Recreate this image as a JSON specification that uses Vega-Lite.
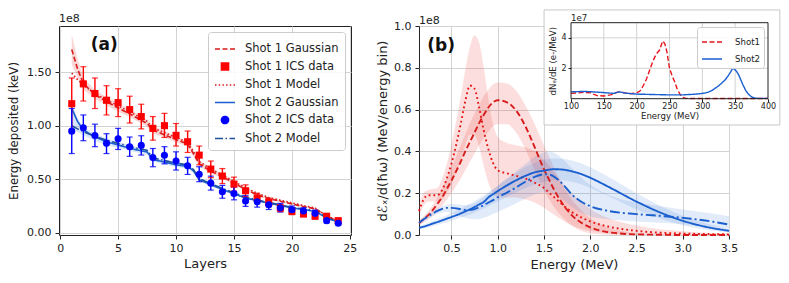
{
 "$schema": "https://vega.github.io/schema/vega-lite/v6.json",
 "padding": {"left": 8, "top": 8, "right": 2, "bottom": 2},
 "background": "white",
 "config": {
  "font": "DejaVu Sans",
  "view": {"stroke": "#222", "strokeWidth": 1},
  "axis": {"grid": true, "gridColor": "#d3d3d3", "gridWidth": 1, "domain": false, "tickColor": "#222", "tickSize": 4, "labelColor": "#222", "labelFontSize": 11, "labelPadding": 3, "labelFlush": false, "labelOverlap": false, "titleFontSize": 12.5, "titleFontWeight": "normal", "titleColor": "#222", "titlePadding": 3, "labelFont": "DejaVu Sans", "titleFont": "DejaVu Sans"},
  "title": {"fontWeight": "normal", "fontSize": 11, "anchor": "start", "frame": "group", "offset": 2, "color": "#222", "font": "DejaVu Sans"},
  "legend": {"labelFont": "DejaVu Sans", "labelColor": "#222"}
 },
 "datasets": {
  "one": [{}],
  "a": [
   {"x": 1, "Shot 1 Gaussian": 1.71, "Shot 1 Model": 1.49, "Shot 2 Gaussian": 1.16, "Shot 2 Model": 1.0, "rlo": 1.57, "rhi": 1.85, "blo": 0.99, "bhi": 1.21},
   {"x": 1.5, "Shot 1 Gaussian": 1.53, "Shot 1 Model": 1.43, "Shot 2 Gaussian": 1.04, "Shot 2 Model": 0.97, "rlo": 1.45, "rhi": 1.62, "blo": 0.94, "bhi": 1.07},
   {"x": 2, "Shot 1 Gaussian": 1.395, "Shot 1 Model": 1.38, "Shot 2 Gaussian": 0.96, "Shot 2 Model": 0.945, "rlo": 1.34, "rhi": 1.45, "blo": 0.91, "bhi": 0.99},
   {"x": 3, "Shot 1 Gaussian": 1.29, "Shot 1 Model": 1.3, "Shot 2 Gaussian": 0.895, "Shot 2 Model": 0.9, "rlo": 1.25, "rhi": 1.33, "blo": 0.86, "bhi": 0.925},
   {"x": 4, "Shot 1 Gaussian": 1.225, "Shot 1 Model": 1.24, "Shot 2 Gaussian": 0.85, "Shot 2 Model": 0.865, "rlo": 1.19, "rhi": 1.27, "blo": 0.82, "bhi": 0.88},
   {"x": 5, "Shot 1 Gaussian": 1.165, "Shot 1 Model": 1.185, "Shot 2 Gaussian": 0.82, "Shot 2 Model": 0.835, "rlo": 1.13, "rhi": 1.21, "blo": 0.795, "bhi": 0.85},
   {"x": 6, "Shot 1 Gaussian": 1.11, "Shot 1 Model": 1.13, "Shot 2 Gaussian": 0.79, "Shot 2 Model": 0.805, "rlo": 1.08, "rhi": 1.15, "blo": 0.765, "bhi": 0.82},
   {"x": 7, "Shot 1 Gaussian": 1.05, "Shot 1 Model": 1.07, "Shot 2 Gaussian": 0.765, "Shot 2 Model": 0.78, "rlo": 1.02, "rhi": 1.09, "blo": 0.74, "bhi": 0.79},
   {"x": 7.5, "Shot 1 Gaussian": 1.02, "Shot 1 Model": 1.04, "Shot 2 Gaussian": 0.755, "Shot 2 Model": 0.77, "rlo": 0.99, "rhi": 1.055, "blo": 0.73, "bhi": 0.78},
   {"x": 8, "Shot 1 Gaussian": 0.96, "Shot 1 Model": 0.98, "Shot 2 Gaussian": 0.685, "Shot 2 Model": 0.7, "rlo": 0.93, "rhi": 1.0, "blo": 0.665, "bhi": 0.71},
   {"x": 9, "Shot 1 Gaussian": 0.915, "Shot 1 Model": 0.935, "Shot 2 Gaussian": 0.66, "Shot 2 Model": 0.675, "rlo": 0.89, "rhi": 0.95, "blo": 0.64, "bhi": 0.685},
   {"x": 10, "Shot 1 Gaussian": 0.87, "Shot 1 Model": 0.89, "Shot 2 Gaussian": 0.635, "Shot 2 Model": 0.65, "rlo": 0.845, "rhi": 0.9, "blo": 0.615, "bhi": 0.66},
   {"x": 11, "Shot 1 Gaussian": 0.83, "Shot 1 Model": 0.845, "Shot 2 Gaussian": 0.62, "Shot 2 Model": 0.635, "rlo": 0.805, "rhi": 0.86, "blo": 0.6, "bhi": 0.645},
   {"x": 11.5, "Shot 1 Gaussian": 0.74, "Shot 1 Model": 0.76, "Shot 2 Gaussian": 0.58, "Shot 2 Model": 0.59, "rlo": 0.71, "rhi": 0.77, "blo": 0.56, "bhi": 0.6},
   {"x": 12, "Shot 1 Gaussian": 0.645, "Shot 1 Model": 0.665, "Shot 2 Gaussian": 0.495, "Shot 2 Model": 0.505, "rlo": 0.62, "rhi": 0.68, "blo": 0.48, "bhi": 0.515},
   {"x": 13, "Shot 1 Gaussian": 0.575, "Shot 1 Model": 0.595, "Shot 2 Gaussian": 0.45, "Shot 2 Model": 0.46, "rlo": 0.555, "rhi": 0.605, "blo": 0.437, "bhi": 0.467},
   {"x": 14, "Shot 1 Gaussian": 0.525, "Shot 1 Model": 0.54, "Shot 2 Gaussian": 0.405, "Shot 2 Model": 0.415, "rlo": 0.505, "rhi": 0.55, "blo": 0.393, "bhi": 0.42},
   {"x": 15, "Shot 1 Gaussian": 0.465, "Shot 1 Model": 0.48, "Shot 2 Gaussian": 0.365, "Shot 2 Model": 0.373, "rlo": 0.45, "rhi": 0.49, "blo": 0.355, "bhi": 0.38},
   {"x": 16, "Shot 1 Gaussian": 0.405, "Shot 1 Model": 0.42, "Shot 2 Gaussian": 0.325, "Shot 2 Model": 0.333, "rlo": 0.39, "rhi": 0.425, "blo": 0.316, "bhi": 0.338},
   {"x": 17, "Shot 1 Gaussian": 0.355, "Shot 1 Model": 0.37, "Shot 2 Gaussian": 0.3, "Shot 2 Model": 0.307, "rlo": 0.343, "rhi": 0.37, "blo": 0.292, "bhi": 0.31},
   {"x": 18, "Shot 1 Gaussian": 0.32, "Shot 1 Model": 0.33, "Shot 2 Gaussian": 0.278, "Shot 2 Model": 0.284, "rlo": 0.31, "rhi": 0.335, "blo": 0.27, "bhi": 0.288},
   {"x": 19, "Shot 1 Gaussian": 0.295, "Shot 1 Model": 0.305, "Shot 2 Gaussian": 0.255, "Shot 2 Model": 0.26, "rlo": 0.285, "rhi": 0.305, "blo": 0.248, "bhi": 0.264},
   {"x": 20, "Shot 1 Gaussian": 0.27, "Shot 1 Model": 0.28, "Shot 2 Gaussian": 0.233, "Shot 2 Model": 0.238, "rlo": 0.26, "rhi": 0.28, "blo": 0.227, "bhi": 0.241},
   {"x": 21, "Shot 1 Gaussian": 0.245, "Shot 1 Model": 0.255, "Shot 2 Gaussian": 0.218, "Shot 2 Model": 0.222, "rlo": 0.237, "rhi": 0.255, "blo": 0.212, "bhi": 0.226},
   {"x": 22, "Shot 1 Gaussian": 0.225, "Shot 1 Model": 0.232, "Shot 2 Gaussian": 0.2, "Shot 2 Model": 0.204, "rlo": 0.217, "rhi": 0.235, "blo": 0.195, "bhi": 0.208},
   {"x": 23, "Shot 1 Gaussian": 0.155, "Shot 1 Model": 0.158, "Shot 2 Gaussian": 0.14, "Shot 2 Model": 0.142, "rlo": 0.148, "rhi": 0.162, "blo": 0.135, "bhi": 0.146},
   {"x": 24, "Shot 1 Gaussian": 0.11, "Shot 1 Model": 0.112, "Shot 2 Gaussian": 0.1, "Shot 2 Model": 0.101, "rlo": 0.105, "rhi": 0.115, "blo": 0.097, "bhi": 0.105}
  ],
  "ics": [
   {"series": "Shot 1 ICS data", "x": 1, "y": 1.205, "lo": 0.965, "hi": 1.445},
   {"series": "Shot 1 ICS data", "x": 2, "y": 1.39, "lo": 1.23, "hi": 1.55},
   {"series": "Shot 1 ICS data", "x": 3, "y": 1.3, "lo": 1.16, "hi": 1.445},
   {"series": "Shot 1 ICS data", "x": 4, "y": 1.237, "lo": 1.1, "hi": 1.373},
   {"series": "Shot 1 ICS data", "x": 5, "y": 1.215, "lo": 1.085, "hi": 1.345},
   {"series": "Shot 1 ICS data", "x": 6, "y": 1.15, "lo": 1.025, "hi": 1.275},
   {"series": "Shot 1 ICS data", "x": 7, "y": 1.085, "lo": 0.97, "hi": 1.2},
   {"series": "Shot 1 ICS data", "x": 8, "y": 0.975, "lo": 0.865, "hi": 1.085},
   {"series": "Shot 1 ICS data", "x": 9, "y": 1.0, "lo": 0.89, "hi": 1.115},
   {"series": "Shot 1 ICS data", "x": 10, "y": 0.91, "lo": 0.81, "hi": 1.02},
   {"series": "Shot 1 ICS data", "x": 11, "y": 0.85, "lo": 0.75, "hi": 0.95},
   {"series": "Shot 1 ICS data", "x": 12, "y": 0.725, "lo": 0.635, "hi": 0.81},
   {"series": "Shot 1 ICS data", "x": 13, "y": 0.595, "lo": 0.515, "hi": 0.67},
   {"series": "Shot 1 ICS data", "x": 14, "y": 0.53, "lo": 0.46, "hi": 0.6},
   {"series": "Shot 1 ICS data", "x": 15, "y": 0.455, "lo": 0.39, "hi": 0.52},
   {"series": "Shot 1 ICS data", "x": 16, "y": 0.393, "lo": 0.338, "hi": 0.448},
   {"series": "Shot 1 ICS data", "x": 17, "y": 0.325, "lo": 0.28, "hi": 0.37},
   {"series": "Shot 1 ICS data", "x": 18, "y": 0.284, "lo": 0.244, "hi": 0.324},
   {"series": "Shot 1 ICS data", "x": 19, "y": 0.232, "lo": 0.197, "hi": 0.267},
   {"series": "Shot 1 ICS data", "x": 20, "y": 0.2, "lo": 0.17, "hi": 0.23},
   {"series": "Shot 1 ICS data", "x": 21, "y": 0.176, "lo": 0.151, "hi": 0.201},
   {"series": "Shot 1 ICS data", "x": 22, "y": 0.155, "lo": 0.13, "hi": 0.18},
   {"series": "Shot 1 ICS data", "x": 23, "y": 0.155, "lo": 0.135, "hi": 0.175},
   {"series": "Shot 1 ICS data", "x": 24, "y": 0.114, "lo": 0.099, "hi": 0.129},
   {"series": "Shot 2 ICS data", "x": 1, "y": 0.949, "lo": 0.74, "hi": 1.16},
   {"series": "Shot 2 ICS data", "x": 2, "y": 0.98, "lo": 0.86, "hi": 1.1},
   {"series": "Shot 2 ICS data", "x": 3, "y": 0.909, "lo": 0.804, "hi": 1.014},
   {"series": "Shot 2 ICS data", "x": 4, "y": 0.835, "lo": 0.74, "hi": 0.925},
   {"series": "Shot 2 ICS data", "x": 5, "y": 0.878, "lo": 0.778, "hi": 0.975},
   {"series": "Shot 2 ICS data", "x": 6, "y": 0.804, "lo": 0.714, "hi": 0.894},
   {"series": "Shot 2 ICS data", "x": 7, "y": 0.816, "lo": 0.726, "hi": 0.906},
   {"series": "Shot 2 ICS data", "x": 8, "y": 0.702, "lo": 0.617, "hi": 0.787},
   {"series": "Shot 2 ICS data", "x": 9, "y": 0.724, "lo": 0.644, "hi": 0.804},
   {"series": "Shot 2 ICS data", "x": 10, "y": 0.671, "lo": 0.586, "hi": 0.756},
   {"series": "Shot 2 ICS data", "x": 11, "y": 0.625, "lo": 0.545, "hi": 0.705},
   {"series": "Shot 2 ICS data", "x": 12, "y": 0.547, "lo": 0.477, "hi": 0.617},
   {"series": "Shot 2 ICS data", "x": 13, "y": 0.464, "lo": 0.399, "hi": 0.529},
   {"series": "Shot 2 ICS data", "x": 14, "y": 0.383, "lo": 0.323, "hi": 0.443},
   {"series": "Shot 2 ICS data", "x": 15, "y": 0.368, "lo": 0.308, "hi": 0.428},
   {"series": "Shot 2 ICS data", "x": 16, "y": 0.297, "lo": 0.247, "hi": 0.347},
   {"series": "Shot 2 ICS data", "x": 17, "y": 0.29, "lo": 0.24, "hi": 0.34},
   {"series": "Shot 2 ICS data", "x": 18, "y": 0.263, "lo": 0.218, "hi": 0.308},
   {"series": "Shot 2 ICS data", "x": 19, "y": 0.235, "lo": 0.195, "hi": 0.275},
   {"series": "Shot 2 ICS data", "x": 20, "y": 0.216, "lo": 0.181, "hi": 0.251},
   {"series": "Shot 2 ICS data", "x": 21, "y": 0.204, "lo": 0.174, "hi": 0.234},
   {"series": "Shot 2 ICS data", "x": 22, "y": 0.182, "lo": 0.152, "hi": 0.212},
   {"series": "Shot 2 ICS data", "x": 23, "y": 0.114, "lo": 0.094, "hi": 0.134},
   {"series": "Shot 2 ICS data", "x": 24, "y": 0.09, "lo": 0.075, "hi": 0.105}
  ],
  "b": [
   {"x": 0.15, "Shot 1 Gaussian": 0.056, "Shot 1 Model": 0.115, "Shot 2 Gaussian": 0.035, "Shot 2 Model": 0.058, "r1lo": 0.045, "r1hi": 0.07, "r2lo": 0.09, "r2hi": 0.15, "b1lo": 0.028, "b1hi": 0.043, "b2lo": 0.05, "b2hi": 0.068},
   {"x": 0.2, "Shot 1 Gaussian": 0.075, "Shot 1 Model": 0.17, "Shot 2 Gaussian": 0.04, "Shot 2 Model": 0.075, "r1lo": 0.06, "r1hi": 0.09, "r2lo": 0.14, "r2hi": 0.2, "b1lo": 0.032, "b1hi": 0.05, "b2lo": 0.065, "b2hi": 0.085},
   {"x": 0.25, "Shot 1 Gaussian": 0.095, "Shot 1 Model": 0.19, "Shot 2 Gaussian": 0.047, "Shot 2 Model": 0.09, "r1lo": 0.075, "r1hi": 0.115, "r2lo": 0.16, "r2hi": 0.215, "b1lo": 0.037, "b1hi": 0.058, "b2lo": 0.078, "b2hi": 0.1},
   {"x": 0.3, "Shot 1 Gaussian": 0.12, "Shot 1 Model": 0.19, "Shot 2 Gaussian": 0.055, "Shot 2 Model": 0.103, "r1lo": 0.095, "r1hi": 0.145, "r2lo": 0.16, "r2hi": 0.22, "b1lo": 0.043, "b1hi": 0.067, "b2lo": 0.09, "b2hi": 0.115},
   {"x": 0.35, "Shot 1 Gaussian": 0.15, "Shot 1 Model": 0.19, "Shot 2 Gaussian": 0.062, "Shot 2 Model": 0.115, "r1lo": 0.12, "r1hi": 0.18, "r2lo": 0.16, "r2hi": 0.225, "b1lo": 0.049, "b1hi": 0.076, "b2lo": 0.1, "b2hi": 0.128},
   {"x": 0.4, "Shot 1 Gaussian": 0.18, "Shot 1 Model": 0.215, "Shot 2 Gaussian": 0.07, "Shot 2 Model": 0.125, "r1lo": 0.14, "r1hi": 0.22, "r2lo": 0.17, "r2hi": 0.27, "b1lo": 0.055, "b1hi": 0.085, "b2lo": 0.108, "b2hi": 0.138},
   {"x": 0.45, "Shot 1 Gaussian": 0.22, "Shot 1 Model": 0.27, "Shot 2 Gaussian": 0.078, "Shot 2 Model": 0.13, "r1lo": 0.17, "r1hi": 0.27, "r2lo": 0.2, "r2hi": 0.34, "b1lo": 0.061, "b1hi": 0.095, "b2lo": 0.11, "b2hi": 0.145},
   {"x": 0.5, "Shot 1 Gaussian": 0.26, "Shot 1 Model": 0.34, "Shot 2 Gaussian": 0.086, "Shot 2 Model": 0.13, "r1lo": 0.2, "r1hi": 0.32, "r2lo": 0.24, "r2hi": 0.43, "b1lo": 0.068, "b1hi": 0.105, "b2lo": 0.105, "b2hi": 0.148},
   {"x": 0.6, "Shot 1 Gaussian": 0.35, "Shot 1 Model": 0.53, "Shot 2 Gaussian": 0.103, "Shot 2 Model": 0.124, "r1lo": 0.27, "r1hi": 0.43, "r2lo": 0.36, "r2hi": 0.66, "b1lo": 0.082, "b1hi": 0.125, "b2lo": 0.09, "b2hi": 0.145},
   {"x": 0.65, "Shot 1 Gaussian": 0.4, "Shot 1 Model": 0.64, "Shot 2 Gaussian": 0.113, "Shot 2 Model": 0.12, "r1lo": 0.31, "r1hi": 0.48, "r2lo": 0.43, "r2hi": 0.79, "b1lo": 0.09, "b1hi": 0.137, "b2lo": 0.082, "b2hi": 0.143},
   {"x": 0.7, "Shot 1 Gaussian": 0.445, "Shot 1 Model": 0.715, "Shot 2 Gaussian": 0.123, "Shot 2 Model": 0.12, "r1lo": 0.35, "r1hi": 0.535, "r2lo": 0.48, "r2hi": 0.9, "b1lo": 0.098, "b1hi": 0.149, "b2lo": 0.077, "b2hi": 0.145},
   {"x": 0.75, "Shot 1 Gaussian": 0.49, "Shot 1 Model": 0.7, "Shot 2 Gaussian": 0.134, "Shot 2 Model": 0.124, "r1lo": 0.39, "r1hi": 0.58, "r2lo": 0.48, "r2hi": 0.955, "b1lo": 0.107, "b1hi": 0.162, "b2lo": 0.075, "b2hi": 0.152},
   {"x": 0.8, "Shot 1 Gaussian": 0.535, "Shot 1 Model": 0.61, "Shot 2 Gaussian": 0.146, "Shot 2 Model": 0.132, "r1lo": 0.43, "r1hi": 0.625, "r2lo": 0.42, "r2hi": 0.92, "b1lo": 0.117, "b1hi": 0.176, "b2lo": 0.077, "b2hi": 0.165},
   {"x": 0.85, "Shot 1 Gaussian": 0.575, "Shot 1 Model": 0.5, "Shot 2 Gaussian": 0.158, "Shot 2 Model": 0.143, "r1lo": 0.465, "r1hi": 0.665, "r2lo": 0.33, "r2hi": 0.8, "b1lo": 0.127, "b1hi": 0.19, "b2lo": 0.083, "b2hi": 0.18},
   {"x": 0.9, "Shot 1 Gaussian": 0.61, "Shot 1 Model": 0.41, "Shot 2 Gaussian": 0.18, "Shot 2 Model": 0.155, "r1lo": 0.495, "r1hi": 0.695, "r2lo": 0.25, "r2hi": 0.65, "b1lo": 0.138, "b1hi": 0.205, "b2lo": 0.09, "b2hi": 0.197},
   {"x": 0.95, "Shot 1 Gaussian": 0.635, "Shot 1 Model": 0.345, "Shot 2 Gaussian": 0.195, "Shot 2 Model": 0.167, "r1lo": 0.52, "r1hi": 0.72, "r2lo": 0.2, "r2hi": 0.53, "b1lo": 0.149, "b1hi": 0.22, "b2lo": 0.1, "b2hi": 0.215},
   {"x": 1.0, "Shot 1 Gaussian": 0.645, "Shot 1 Model": 0.31, "Shot 2 Gaussian": 0.21, "Shot 2 Model": 0.18, "r1lo": 0.53, "r1hi": 0.73, "r2lo": 0.18, "r2hi": 0.47, "b1lo": 0.16, "b1hi": 0.236, "b2lo": 0.11, "b2hi": 0.235},
   {"x": 1.1, "Shot 1 Gaussian": 0.635, "Shot 1 Model": 0.295, "Shot 2 Gaussian": 0.237, "Shot 2 Model": 0.203, "r1lo": 0.53, "r1hi": 0.725, "r2lo": 0.18, "r2hi": 0.44, "b1lo": 0.183, "b1hi": 0.268, "b2lo": 0.13, "b2hi": 0.27},
   {"x": 1.2, "Shot 1 Gaussian": 0.595, "Shot 1 Model": 0.283, "Shot 2 Gaussian": 0.262, "Shot 2 Model": 0.228, "r1lo": 0.49, "r1hi": 0.69, "r2lo": 0.18, "r2hi": 0.43, "b1lo": 0.205, "b1hi": 0.298, "b2lo": 0.152, "b2hi": 0.305},
   {"x": 1.3, "Shot 1 Gaussian": 0.52, "Shot 1 Model": 0.27, "Shot 2 Gaussian": 0.283, "Shot 2 Model": 0.255, "r1lo": 0.41, "r1hi": 0.62, "r2lo": 0.17, "r2hi": 0.42, "b1lo": 0.225, "b1hi": 0.325, "b2lo": 0.175, "b2hi": 0.34},
   {"x": 1.4, "Shot 1 Gaussian": 0.42, "Shot 1 Model": 0.25, "Shot 2 Gaussian": 0.3, "Shot 2 Model": 0.278, "r1lo": 0.31, "r1hi": 0.53, "r2lo": 0.155, "r2hi": 0.4, "b1lo": 0.242, "b1hi": 0.346, "b2lo": 0.195, "b2hi": 0.375},
   {"x": 1.5, "Shot 1 Gaussian": 0.315, "Shot 1 Model": 0.225, "Shot 2 Gaussian": 0.308, "Shot 2 Model": 0.29, "r1lo": 0.215, "r1hi": 0.43, "r2lo": 0.13, "r2hi": 0.36, "b1lo": 0.255, "b1hi": 0.36, "b2lo": 0.205, "b2hi": 0.395},
   {"x": 1.55, "Shot 1 Gaussian": 0.27, "Shot 1 Model": 0.205, "Shot 2 Gaussian": 0.312, "Shot 2 Model": 0.29, "r1lo": 0.175, "r1hi": 0.38, "r2lo": 0.115, "r2hi": 0.335, "b1lo": 0.26, "b1hi": 0.364, "b2lo": 0.205, "b2hi": 0.4},
   {"x": 1.6, "Shot 1 Gaussian": 0.225, "Shot 1 Model": 0.185, "Shot 2 Gaussian": 0.315, "Shot 2 Model": 0.282, "r1lo": 0.14, "r1hi": 0.33, "r2lo": 0.1, "r2hi": 0.305, "b1lo": 0.263, "b1hi": 0.366, "b2lo": 0.198, "b2hi": 0.395},
   {"x": 1.7, "Shot 1 Gaussian": 0.15, "Shot 1 Model": 0.145, "Shot 2 Gaussian": 0.313, "Shot 2 Model": 0.245, "r1lo": 0.085, "r1hi": 0.24, "r2lo": 0.07, "r2hi": 0.25, "b1lo": 0.262, "b1hi": 0.365, "b2lo": 0.17, "b2hi": 0.365},
   {"x": 1.8, "Shot 1 Gaussian": 0.095, "Shot 1 Model": 0.11, "Shot 2 Gaussian": 0.305, "Shot 2 Model": 0.195, "r1lo": 0.045, "r1hi": 0.17, "r2lo": 0.045, "r2hi": 0.2, "b1lo": 0.255, "b1hi": 0.357, "b2lo": 0.135, "b2hi": 0.32},
   {"x": 1.9, "Shot 1 Gaussian": 0.06, "Shot 1 Model": 0.085, "Shot 2 Gaussian": 0.292, "Shot 2 Model": 0.16, "r1lo": 0.02, "r1hi": 0.12, "r2lo": 0.03, "r2hi": 0.16, "b1lo": 0.243, "b1hi": 0.343, "b2lo": 0.108, "b2hi": 0.275},
   {"x": 2.0, "Shot 1 Gaussian": 0.037, "Shot 1 Model": 0.065, "Shot 2 Gaussian": 0.274, "Shot 2 Model": 0.138, "r1lo": 0.008, "r1hi": 0.08, "r2lo": 0.02, "r2hi": 0.125, "b1lo": 0.226, "b1hi": 0.324, "b2lo": 0.09, "b2hi": 0.24},
   {"x": 2.2, "Shot 1 Gaussian": 0.013, "Shot 1 Model": 0.04, "Shot 2 Gaussian": 0.23, "Shot 2 Model": 0.115, "r1lo": 0.001, "r1hi": 0.035, "r2lo": 0.008, "r2hi": 0.08, "b1lo": 0.185, "b1hi": 0.277, "b2lo": 0.075, "b2hi": 0.19},
   {"x": 2.5, "Shot 1 Gaussian": 0.003, "Shot 1 Model": 0.02, "Shot 2 Gaussian": 0.16, "Shot 2 Model": 0.1, "r1lo": 0, "r1hi": 0.01, "r2lo": 0.002, "r2hi": 0.045, "b1lo": 0.122, "b1hi": 0.2, "b2lo": 0.065, "b2hi": 0.155},
   {"x": 2.8, "Shot 1 Gaussian": 0.001, "Shot 1 Model": 0.01, "Shot 2 Gaussian": 0.1, "Shot 2 Model": 0.09, "r1lo": 0, "r1hi": 0.002, "r2lo": 0, "r2hi": 0.025, "b1lo": 0.072, "b1hi": 0.13, "b2lo": 0.058, "b2hi": 0.135},
   {"x": 3.0, "Shot 1 Gaussian": 0, "Shot 1 Model": 0.007, "Shot 2 Gaussian": 0.068, "Shot 2 Model": 0.082, "r1lo": 0, "r1hi": 0, "r2lo": 0, "r2hi": 0.018, "b1lo": 0.047, "b1hi": 0.092, "b2lo": 0.052, "b2hi": 0.122},
   {"x": 3.2, "Shot 1 Gaussian": 0, "Shot 1 Model": 0.005, "Shot 2 Gaussian": 0.044, "Shot 2 Model": 0.072, "r1lo": 0, "r1hi": 0, "r2lo": 0, "r2hi": 0.012, "b1lo": 0.029, "b1hi": 0.062, "b2lo": 0.045, "b2hi": 0.11},
   {"x": 3.5, "Shot 1 Gaussian": 0, "Shot 1 Model": 0.003, "Shot 2 Gaussian": 0.02, "Shot 2 Model": 0.05, "r1lo": 0, "r1hi": 0, "r2lo": 0, "r2hi": 0.008, "b1lo": 0.012, "b1hi": 0.03, "b2lo": 0.032, "b2hi": 0.09}
  ],
  "ins": [
   {"s": "Shot1", "x": 100, "y": 0.35}, {"s": "Shot1", "x": 110, "y": 0.38}, {"s": "Shot1", "x": 120, "y": 0.42}, {"s": "Shot1", "x": 130, "y": 0.38},
   {"s": "Shot1", "x": 135, "y": 0.28}, {"s": "Shot1", "x": 140, "y": 0.2}, {"s": "Shot1", "x": 150, "y": 0.18}, {"s": "Shot1", "x": 160, "y": 0.25},
   {"s": "Shot1", "x": 165, "y": 0.3}, {"s": "Shot1", "x": 170, "y": 0.42}, {"s": "Shot1", "x": 175, "y": 0.48}, {"s": "Shot1", "x": 180, "y": 0.4},
   {"s": "Shot1", "x": 190, "y": 0.33}, {"s": "Shot1", "x": 200, "y": 0.38}, {"s": "Shot1", "x": 205, "y": 0.5}, {"s": "Shot1", "x": 210, "y": 0.85},
   {"s": "Shot1", "x": 215, "y": 1.3}, {"s": "Shot1", "x": 220, "y": 1.9}, {"s": "Shot1", "x": 225, "y": 2.5}, {"s": "Shot1", "x": 230, "y": 2.95},
   {"s": "Shot1", "x": 235, "y": 3.2}, {"s": "Shot1", "x": 238, "y": 3.6}, {"s": "Shot1", "x": 240, "y": 3.8}, {"s": "Shot1", "x": 243, "y": 3.6},
   {"s": "Shot1", "x": 246, "y": 3.1}, {"s": "Shot1", "x": 250, "y": 2.0}, {"s": "Shot1", "x": 254, "y": 1.5}, {"s": "Shot1", "x": 258, "y": 1.1},
   {"s": "Shot1", "x": 262, "y": 0.6}, {"s": "Shot1", "x": 266, "y": 0.3}, {"s": "Shot1", "x": 270, "y": 0.08}, {"s": "Shot1", "x": 275, "y": 0.02},
   {"s": "Shot1", "x": 300, "y": 0.01}, {"s": "Shot1", "x": 350, "y": 0.01}, {"s": "Shot1", "x": 400, "y": 0.01},
   {"s": "Shot2", "x": 100, "y": 0.45}, {"s": "Shot2", "x": 120, "y": 0.48}, {"s": "Shot2", "x": 130, "y": 0.46}, {"s": "Shot2", "x": 150, "y": 0.4},
   {"s": "Shot2", "x": 165, "y": 0.35}, {"s": "Shot2", "x": 170, "y": 0.42}, {"s": "Shot2", "x": 175, "y": 0.44}, {"s": "Shot2", "x": 180, "y": 0.38},
   {"s": "Shot2", "x": 200, "y": 0.3}, {"s": "Shot2", "x": 220, "y": 0.28}, {"s": "Shot2", "x": 250, "y": 0.25}, {"s": "Shot2", "x": 270, "y": 0.25},
   {"s": "Shot2", "x": 290, "y": 0.3}, {"s": "Shot2", "x": 300, "y": 0.35}, {"s": "Shot2", "x": 305, "y": 0.38}, {"s": "Shot2", "x": 310, "y": 0.45},
   {"s": "Shot2", "x": 315, "y": 0.55}, {"s": "Shot2", "x": 320, "y": 0.7}, {"s": "Shot2", "x": 325, "y": 0.85}, {"s": "Shot2", "x": 330, "y": 1.05},
   {"s": "Shot2", "x": 335, "y": 1.25}, {"s": "Shot2", "x": 340, "y": 1.55}, {"s": "Shot2", "x": 343, "y": 1.75}, {"s": "Shot2", "x": 346, "y": 2.0},
   {"s": "Shot2", "x": 349, "y": 1.95}, {"s": "Shot2", "x": 352, "y": 1.8}, {"s": "Shot2", "x": 355, "y": 1.6}, {"s": "Shot2", "x": 358, "y": 1.3},
   {"s": "Shot2", "x": 362, "y": 0.9}, {"s": "Shot2", "x": 366, "y": 0.55}, {"s": "Shot2", "x": 370, "y": 0.3}, {"s": "Shot2", "x": 375, "y": 0.12},
   {"s": "Shot2", "x": 380, "y": 0.04}, {"s": "Shot2", "x": 385, "y": 0.02}, {"s": "Shot2", "x": 400, "y": 0.02}
  ],
  "ingx": [{"g": 150}, {"g": 200}, {"g": 250}, {"g": 300}, {"g": 350}],
  "ingy": [{"g": 2}, {"g": 4}]
 },
 "bounds": "flush",
 "spacing": 68,
 "resolve": {"scale": {"color": "independent", "strokeDash": "independent", "shape": "independent"}, "legend": {"color": "independent", "strokeDash": "independent", "shape": "independent"}},
 "hconcat": [
  {
   "width": 292, "height": 209,
   "title": {"text": "1e8", "fontSize": 11},
   "layer": [
    {"data": {"name": "a"}, "mark": {"type": "area", "color": "#e53935", "opacity": 0.2},
     "encoding": {
      "x": {"field": "x", "type": "quantitative", "scale": {"domain": [-0.1, 25.1], "nice": false, "zero": false}, "axis": {"title": "Layers", "values": [0, 5, 10, 15, 20, 25], "titleFontSize": 13, "titlePadding": 4}},
      "y": {"field": "rlo", "type": "quantitative", "scale": {"domain": [-0.02, 1.93], "nice": false, "zero": false}, "axis": {"title": "Energy deposited (keV)", "values": [0, 0.25, 0.5, 0.75, 1.0, 1.25, 1.5, 1.75], "format": ".2f", "titleFontSize": 11.8, "labelPadding": 4, "titlePadding": 7}},
      "y2": {"field": "rhi"}}},
    {"data": {"name": "a"}, "mark": {"type": "area", "color": "#3b78d8", "opacity": 0.2},
     "encoding": {
      "x": {"field": "x", "type": "quantitative"},
      "y": {"field": "blo", "type": "quantitative"},
      "y2": {"field": "bhi"}}},
    {"data": {"name": "a"},
     "transform": [{"fold": ["Shot 1 Gaussian", "Shot 1 Model", "Shot 2 Gaussian", "Shot 2 Model"], "as": ["series", "yv"]}],
     "mark": {"type": "line", "strokeWidth": 1.6},
     "encoding": {
      "x": {"field": "x", "type": "quantitative"},
      "y": {"field": "yv", "type": "quantitative"},
      "color": {"field": "series", "type": "nominal",
       "scale": {"domain": ["Shot 1 Gaussian", "Shot 1 ICS data", "Shot 1 Model", "Shot 2 Gaussian", "Shot 2 ICS data", "Shot 2 Model"], "range": ["#d81b1b", "#ff0000", "#d81b1b", "#1a5fcf", "#0000ff", "#1f4f9f"]},
       "legend": {"title": null, "orient": "top-right", "offset": 6, "fillColor": "rgba(255,255,255,0.85)", "strokeColor": "#cccccc", "cornerRadius": 3, "padding": 6, "labelFontSize": 11.5, "labelOffset": 9, "rowPadding": 0.5, "symbolSize": 324, "symbolStrokeWidth": 1.6,
        "encode": {"symbols": {"update": {
         "shape": {"signal": "datum.value == 'Shot 1 ICS data' ? 'square' : (datum.value == 'Shot 2 ICS data' ? 'circle' : 'stroke')"},
         "size": {"signal": "(datum.value == 'Shot 1 ICS data' || datum.value == 'Shot 2 ICS data') ? 50 : 400"},
         "strokeDash": {"signal": "datum.value == 'Shot 1 Gaussian' ? [5, 2.5] : (datum.value == 'Shot 1 Model' ? [1.5, 2.2] : (datum.value == 'Shot 2 Model' ? [8, 2.5, 1.5, 2.5] : [1, 0]))"},
         "fill": {"signal": "datum.value == 'Shot 1 ICS data' ? '#ff0000' : (datum.value == 'Shot 2 ICS data' ? '#0000ff' : 'transparent')"},
         "strokeWidth": {"value": 1.6},
         "opacity": {"value": 1}}}}}},
      "strokeDash": {"field": "series", "type": "nominal", "scale": {"domain": ["Shot 1 Gaussian", "Shot 1 Model", "Shot 2 Gaussian", "Shot 2 Model"], "range": [[5, 2.5], [1.5, 2.2], [1, 0], [8, 2.5, 1.5, 2.5]]}, "legend": null}}},
    {"data": {"name": "ics"}, "mark": {"type": "rule", "strokeWidth": 1.4},
     "encoding": {
      "x": {"field": "x", "type": "quantitative"},
      "y": {"field": "lo", "type": "quantitative"},
      "y2": {"field": "hi"},
      "color": {"field": "series", "type": "nominal"}}},
    {"data": {"name": "ics"}, "mark": {"type": "tick", "orient": "horizontal", "size": 6, "thickness": 1.2, "opacity": 0.8},
     "encoding": {
      "x": {"field": "x", "type": "quantitative"},
      "y": {"field": "lo", "type": "quantitative"},
      "color": {"field": "series", "type": "nominal"}}},
    {"data": {"name": "ics"}, "mark": {"type": "tick", "orient": "horizontal", "size": 6, "thickness": 1.2, "opacity": 0.8},
     "encoding": {
      "x": {"field": "x", "type": "quantitative"},
      "y": {"field": "hi", "type": "quantitative"},
      "color": {"field": "series", "type": "nominal"}}},
    {"data": {"name": "ics"}, "mark": {"type": "point", "filled": true, "size": 50, "opacity": 1},
     "encoding": {
      "x": {"field": "x", "type": "quantitative"},
      "y": {"field": "y", "type": "quantitative"},
      "color": {"field": "series", "type": "nominal"},
      "shape": {"field": "series", "type": "nominal", "scale": {"domain": ["Shot 1 ICS data", "Shot 2 ICS data"], "range": ["square", "circle"]}, "legend": null}}},
    {"data": {"name": "one"}, "mark": {"type": "text", "fontSize": 17, "fontWeight": "bold", "font": "DejaVu Sans", "color": "#111"},
     "encoding": {
      "x": {"datum": 3.8, "type": "quantitative"},
      "y": {"datum": 1.75, "type": "quantitative"},
      "text": {"value": "(a)"}}}
   ]
  },
  {
   "width": 310, "height": 209,
   "resolve": {"scale": {"x": "independent", "y": "independent", "color": "independent", "strokeDash": "independent"}, "axis": {"x": "independent", "y": "independent"}, "legend": {"color": "independent", "strokeDash": "independent"}},
   "layer": [
    {
     "layer": [
      {"data": {"name": "b"}, "mark": {"type": "area", "color": "#e53935", "opacity": 0.17, "interpolate": "monotone"},
       "encoding": {
        "x": {"field": "x", "type": "quantitative", "scale": {"domain": [0.15, 3.5], "nice": false, "zero": false}, "axis": {"orient": "bottom", "title": "Energy (MeV)", "values": [0.5, 1.0, 1.5, 2.0, 2.5, 3.0, 3.5], "format": ".1f", "titleFontSize": 13, "titlePadding": 5}},
        "y": {"field": "r2lo", "type": "quantitative", "scale": {"domain": [0, 1], "nice": false}, "axis": {"orient": "left", "title": "dℰₓ/d(ħω) (MeV/energy bin)", "values": [0, 0.2, 0.4, 0.6, 0.8, 1.0], "format": ".1f", "titleFontSize": 13, "labelPadding": 4, "titlePadding": 4}},
        "y2": {"field": "r2hi"}}},
      {"data": {"name": "b"}, "mark": {"type": "area", "color": "#e53935", "opacity": 0.17, "interpolate": "monotone"},
       "encoding": {"x": {"field": "x", "type": "quantitative"}, "y": {"field": "r1lo", "type": "quantitative"}, "y2": {"field": "r1hi"}}},
      {"data": {"name": "b"}, "mark": {"type": "area", "color": "#3b78d8", "opacity": 0.15, "interpolate": "monotone"},
       "encoding": {"x": {"field": "x", "type": "quantitative"}, "y": {"field": "b1lo", "type": "quantitative"}, "y2": {"field": "b1hi"}}},
      {"data": {"name": "b"}, "mark": {"type": "area", "color": "#3b78d8", "opacity": 0.15, "interpolate": "monotone"},
       "encoding": {"x": {"field": "x", "type": "quantitative"}, "y": {"field": "b2lo", "type": "quantitative"}, "y2": {"field": "b2hi"}}},
      {"data": {"name": "b"}, "transform": [{"fold": ["Shot 1 Gaussian", "Shot 1 Model", "Shot 2 Gaussian", "Shot 2 Model"], "as": ["series", "yv"]}],
       "mark": {"type": "line", "strokeWidth": 1.9, "interpolate": "monotone"},
       "encoding": {
        "x": {"field": "x", "type": "quantitative"},
        "y": {"field": "yv", "type": "quantitative"},
        "color": {"field": "series", "type": "nominal", "scale": {"domain": ["Shot 1 Gaussian", "Shot 1 Model", "Shot 2 Gaussian", "Shot 2 Model"], "range": ["#d81b1b", "#e81414", "#1a5fcf", "#1a5fcf"]}, "legend": null},
        "strokeDash": {"field": "series", "type": "nominal", "scale": {"domain": ["Shot 1 Gaussian", "Shot 1 Model", "Shot 2 Gaussian", "Shot 2 Model"], "range": [[6, 3], [1.8, 3], [1, 0], [10, 3, 2, 3]]}, "legend": null}}},
      {"data": {"name": "one"}, "mark": {"type": "text", "fontSize": 17, "fontWeight": "bold", "font": "DejaVu Sans", "color": "#111"},
       "encoding": {
        "x": {"datum": 0.39, "type": "quantitative"},
        "y": {"datum": 0.905, "type": "quantitative"},
        "text": {"value": "(b)"}}},
      {"data": {"name": "one"}, "mark": {"type": "text", "fontSize": 11, "align": "left", "baseline": "alphabetic", "dy": -2, "color": "#222"},
       "encoding": {
        "x": {"datum": 0.15, "type": "quantitative"},
        "y": {"datum": 1.0, "type": "quantitative"},
        "text": {"value": "1e8"}}}
     ]
    },
    {
     "layer": [
      {"data": {"name": "one"}, "mark": {"type": "rect", "fill": "white", "stroke": "#c8c8c8", "strokeWidth": 1, "opacity": 1},
       "encoding": {
        "x": {"datum": 59, "type": "quantitative", "scale": {"domain": [100, 400], "range": [152, 349], "nice": false, "zero": false},
         "axis": {"orient": "bottom", "offset": -136.3, "grid": false, "zindex": 1, "title": "Energy (MeV)", "values": [100, 150, 200, 250, 300, 350, 400], "labelFontSize": 8, "titleFontSize": 8.6, "tickSize": 3, "labelPadding": 1, "titlePadding": 1}},
        "x2": {"datum": 418},
        "y": {"datum": -1.73, "type": "quantitative", "scale": {"domain": [0, 5], "range": [72.7, -3.3], "nice": false, "zero": false},
         "axis": {"orient": "left", "offset": -152, "grid": false, "zindex": 1, "title": "dNₑ/dE (e-/MeV)", "values": [2, 4], "labelFontSize": 8, "titleFontSize": 8.6, "tickSize": 3, "labelPadding": 2, "titlePadding": 3}},
        "y2": {"datum": 5.84}}},
      {"data": {"name": "ingx"}, "mark": {"type": "rule", "color": "#d3d3d3", "strokeWidth": 1},
       "encoding": {"x": {"field": "g", "type": "quantitative"}, "y": {"datum": 0, "type": "quantitative"}, "y2": {"datum": 5}}},
      {"data": {"name": "ingy"}, "mark": {"type": "rule", "color": "#d3d3d3", "strokeWidth": 1},
       "encoding": {"y": {"field": "g", "type": "quantitative"}, "x": {"datum": 100, "type": "quantitative"}, "x2": {"datum": 400}}},
      {"data": {"name": "ins"}, "mark": {"type": "line", "strokeWidth": 1.4},
       "encoding": {
        "x": {"field": "x", "type": "quantitative"},
        "y": {"field": "y", "type": "quantitative"},
        "color": {"field": "s", "type": "nominal", "scale": {"domain": ["Shot1", "Shot2"], "range": ["#e8141c", "#1a5fcf"]},
         "legend": {"title": null, "orient": "none", "legendX": 278, "legendY": 1, "fillColor": "rgba(255,255,255,0.85)", "strokeColor": "#cccccc", "cornerRadius": 3, "padding": 4, "labelFontSize": 8.6, "labelOffset": 12, "rowPadding": 1, "symbolSize": 110, "symbolStrokeWidth": 1.4,
          "encode": {"symbols": {"update": {"size": {"value": 400}}}}}},
        "strokeDash": {"field": "s", "type": "nominal", "scale": {"domain": ["Shot1", "Shot2"], "range": [[5, 2.5], [1, 0]]}}}},
      {"data": {"name": "one"}, "mark": {"type": "text", "fontSize": 8.6, "align": "left", "baseline": "alphabetic", "dy": -2, "color": "#222"},
       "encoding": {"x": {"datum": 100, "type": "quantitative"}, "y": {"datum": 5, "type": "quantitative"}, "text": {"value": "1e7"}}},
      {"data": {"name": "one"}, "mark": {"type": "rect", "fill": "transparent", "stroke": "#222", "strokeWidth": 1},
       "encoding": {"x": {"datum": 100, "type": "quantitative"}, "x2": {"datum": 400}, "y": {"datum": 0, "type": "quantitative"}, "y2": {"datum": 5}}}
     ]
    }
   ]
  }
 ]
}
